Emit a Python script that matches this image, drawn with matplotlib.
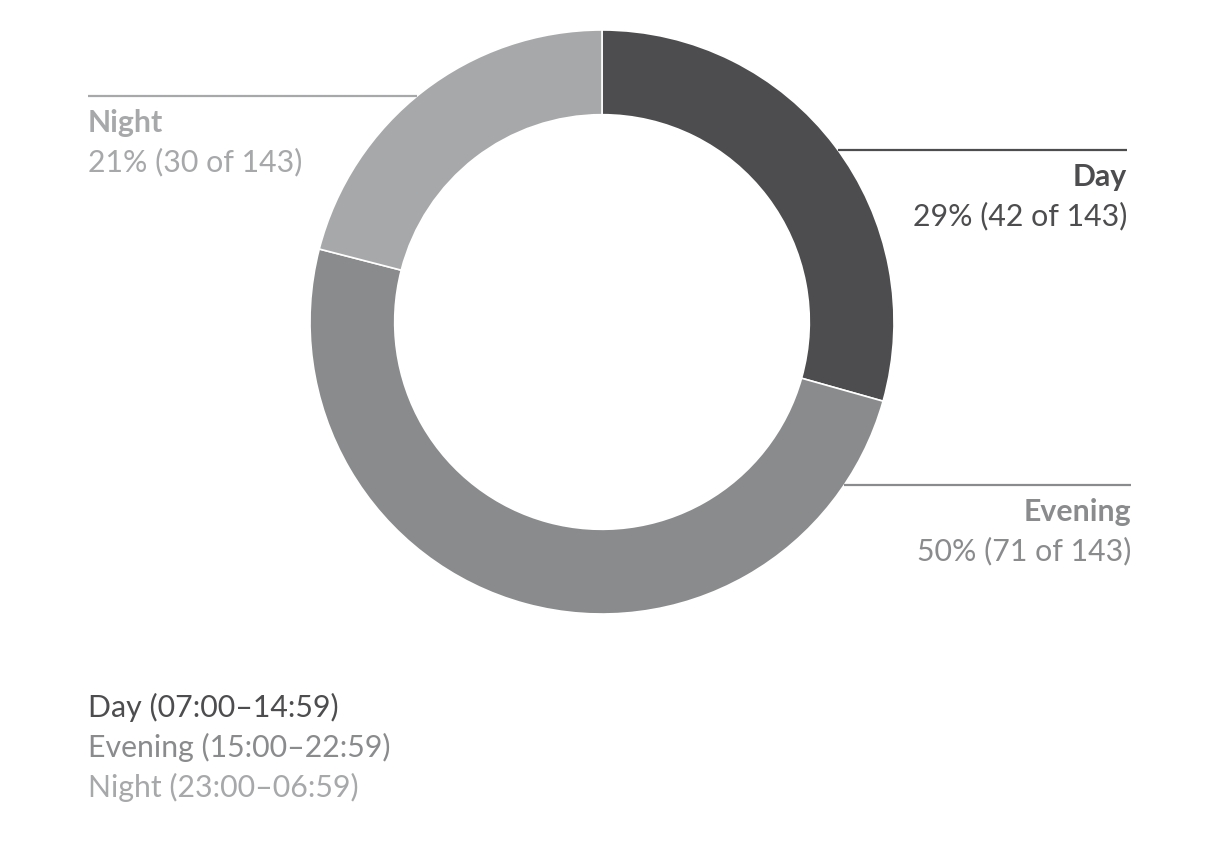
import numpy as np
import matplotlib
matplotlib.use("Agg")
from matplotlib import pyplot as plt

labels = ["Day", "Evening", "Night"]
counts = [42, 71, 30]
ranges = ["07:00\u201314:59", "15:00\u201322:59", "23:00\u201306:59"]
colors = ["#4d4d4f", "#8a8b8d", "#a7a8aa"]

total = sum(counts)

plt.rcParams['font.family'] = ['Lato', 'DejaVu Sans']

W, H = 1219, 853
fig = plt.figure(figsize=(W / 100, H / 100), dpi=100)
ax = fig.add_axes([0, 0, 1, 1])

cx, cy, R = 602, H - 323, 292
ax.pie(counts, colors=colors, startangle=90, counterclock=False,
       center=(cx, cy), radius=R, frame=True,
       wedgeprops=dict(width=R * 0.29, edgecolor='white', linewidth=1.2))
ax.set_xlim(0, W)
ax.set_ylim(0, H)
ax.set_aspect('equal')
ax.axis('off')

# label placements (pixel rows from top), side of chart
line_y = [151, 486, 97]
text_x = [1127, 1131, 88]
side = ['right', 'right', 'left']
fs = 21.8

for i in range(3):
    ly = H - line_y[i]
    dx = np.sqrt(R**2 - (ly - cy)**2)
    if side[i] == 'right':
        x0, x1 = cx + dx, text_x[i]
        ha = 'right'
    else:
        x0, x1 = text_x[i], cx - dx
        ha = 'left'
    ax.plot([x0, x1], [ly, ly], color=colors[i], linewidth=1.6,
            solid_capstyle='butt')
    pct = round(100 * counts[i] / total)
    ax.text(text_x[i], ly - 26, labels[i], ha=ha, va='center',
            fontsize=fs, fontweight='bold', color=colors[i])
    ax.text(text_x[i], ly - 65, "%d%% (%d of %d)" % (pct, counts[i], total),
            ha=ha, va='center', fontsize=fs, color=colors[i])

for i in range(3):
    ax.text(88, H - (707 + 40 * i), "%s (%s)" % (labels[i], ranges[i]),
            ha='left', va='center', fontsize=fs, color=colors[i])

fig.savefig("out.png", dpi=100, facecolor='white')
